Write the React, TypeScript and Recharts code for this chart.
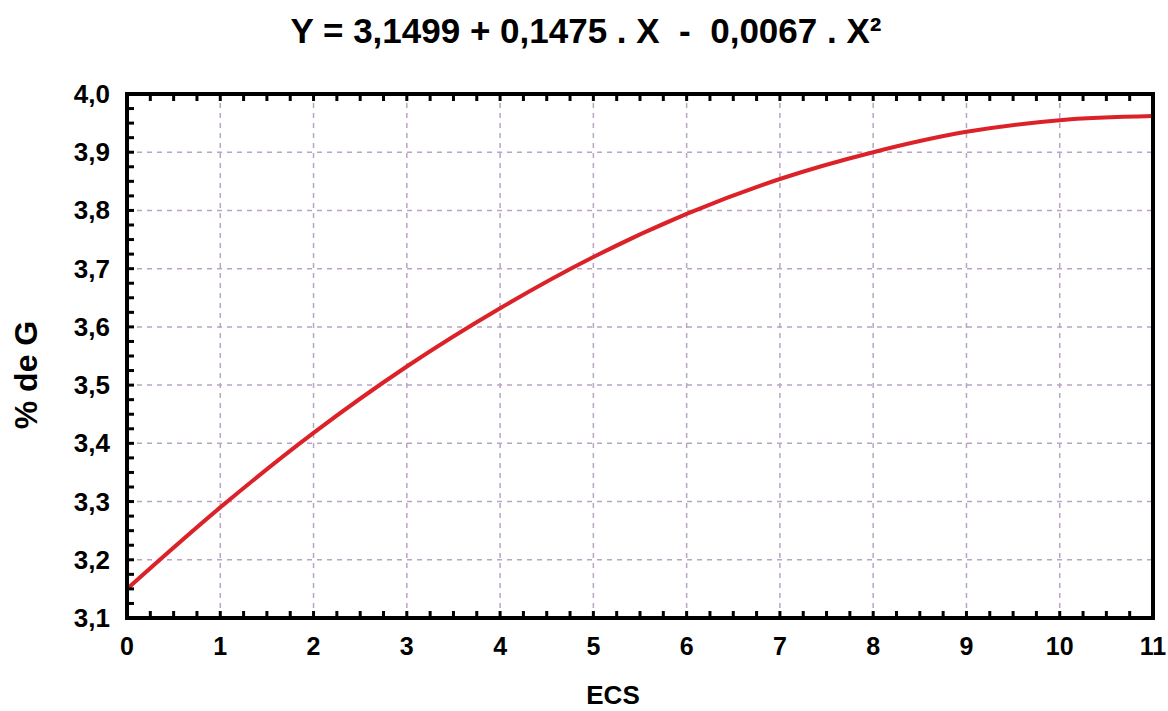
import React from 'react';
import { LineChart, Line, XAxis, YAxis, ReferenceLine } from 'recharts';

// values at each integer ECS
const ecs = [0, 1, 2, 3, 4, 5, 6, 7, 8, 9, 10, 11];
const pctG = [3.15, 3.29, 3.418, 3.532, 3.632, 3.72, 3.794, 3.854, 3.9, 3.935, 3.955, 3.962];

const xMajor = [0, 1, 2, 3, 4, 5, 6, 7, 8, 9, 10, 11];
const yMajor = [3.1, 3.2, 3.3, 3.4, 3.5, 3.6, 3.7, 3.8, 3.9, 4.0];

const title = 'Y = 3,1499 + 0,1475 . X  -  0,0067 . X²';

const data = ecs.map((x, i) => ({ x, y: pctG[i] }));

// minor ticks: 4 steps between each major tick
const subdivide = (major: number[], n: number) => {
  const out: number[] = [];
  major.forEach((v, i) => {
    if (i === major.length - 1) {
      out.push(v);
      return;
    }
    const step = (major[i + 1] - v) / n;
    for (let k = 0; k < n; k++) out.push(+(v + k * step).toFixed(4));
  });
  return out;
};
const xMinor = subdivide(xMajor, 4);
const yMinor = subdivide(yMajor, 4);

const isMajor = (v: number, unit: number) => Math.abs(v / unit - Math.round(v / unit)) < 1e-6;
const fmt = (v: number) => v.toFixed(1).replace('.', ',');

const FONT = '"Liberation Sans", Arial, sans-serif';
const TICK_LEN = 7;

const BottomTick = ({ x, y, payload }: any) => (
  <g>
    <line x1={x} y1={y} x2={x} y2={y - TICK_LEN} stroke="#000" strokeWidth={3} />
    {isMajor(payload.value, 1) && (
      <text x={x} y={y + 37} textAnchor="middle" fontFamily={FONT} fontWeight="bold" fontSize={25} fill="#000">
        {payload.value}
      </text>
    )}
  </g>
);

const TopTick = ({ x, y }: any) => (
  <line x1={x} y1={y} x2={x} y2={y + TICK_LEN} stroke="#000" strokeWidth={3} />
);

const LeftTick = ({ x, y, payload }: any) => (
  <g>
    <line x1={x} y1={y} x2={x + TICK_LEN} y2={y} stroke="#000" strokeWidth={3} />
    {isMajor(payload.value, 0.1) && (
      <text x={x - 17} y={y + 9} textAnchor="end" fontFamily={FONT} fontWeight="bold" fontSize={26} fill="#000">
        {fmt(payload.value)}
      </text>
    )}
  </g>
);

const RightTick = ({ x, y }: any) => (
  <line x1={x} y1={y} x2={x - TICK_LEN} y2={y} stroke="#000" strokeWidth={3} />
);

const grid = { stroke: '#b9a4c4', strokeWidth: 1.5, strokeDasharray: '5 5' };
const frame = { stroke: '#000', strokeWidth: 4, strokeLinecap: 'square' as const, ifOverflow: 'visible' as const };

const App = () => {
  return (
    <div style={{ position: 'absolute', left: 0, top: 0, width: 1168, height: 711, background: '#fff' }}>
      <div
        style={{
          position: 'absolute',
          top: 11,
          left: 0,
          width: 1168,
          textAlign: 'center',
          fontFamily: FONT,
          fontWeight: 'bold',
          fontSize: 35,
          whiteSpace: 'pre',
          paddingLeft: 2,
        }}
      >
        {title}
      </div>
      <LineChart width={1168} height={711} data={data} margin={{ top: 93, right: 14, left: 0, bottom: 0 }}>
        {xMajor.slice(1, -1).map((v) => (
          <ReferenceLine key={'vx' + v} x={v} xAxisId="x" yAxisId="y" {...grid} />
        ))}
        {yMajor.slice(1, -1).map((v) => (
          <ReferenceLine key={'hy' + v} y={v} xAxisId="x" yAxisId="y" {...grid} />
        ))}
        <XAxis
          xAxisId="x"
          dataKey="x"
          type="number"
          domain={[0, 11]}
          ticks={xMinor}
          interval={0}
          height={93}
          tickSize={0}
          tickMargin={0}
          tickLine={false}
          axisLine={false}
          tick={<BottomTick />}
          label={{
            value: 'ECS',
            position: 'insideBottom',
            offset: 7,
            dx: -27,
            style: { fontFamily: FONT, fontWeight: 'bold', fontSize: 26, fill: '#000' },
          }}
        />
        <XAxis
          xAxisId="xt"
          orientation="top"
          type="number"
          domain={[0, 11]}
          ticks={xMinor}
          interval={0}
          height={1}
          tickSize={0}
          tickMargin={0}
          tickLine={false}
          axisLine={false}
          tick={<TopTick />}
        />
        <YAxis
          yAxisId="y"
          type="number"
          domain={[3.1, 4.0]}
          ticks={yMinor}
          interval={0}
          width={127}
          tickSize={0}
          tickMargin={0}
          tickLine={false}
          axisLine={false}
          tick={<LeftTick />}
          label={{
            value: '% de G',
            angle: -90,
            position: 'insideLeft',
            offset: 26,
            dy: 19,
            style: { fontFamily: FONT, fontWeight: 'bold', fontSize: 32, fill: '#000', textAnchor: 'middle' },
          }}
        />
        <YAxis
          yAxisId="yr"
          orientation="right"
          type="number"
          domain={[3.1, 4.0]}
          ticks={yMinor}
          interval={0}
          width={1}
          tickSize={0}
          tickMargin={0}
          tickLine={false}
          axisLine={false}
          tick={<RightTick />}
        />
        <Line
          xAxisId="x"
          yAxisId="y"
          type="monotone"
          dataKey="y"
          stroke="#dc2229"
          strokeWidth={4}
          dot={false}
          isAnimationActive={false}
        />
        <ReferenceLine xAxisId="x" yAxisId="y" x={xMajor[0]} {...frame} />
        <ReferenceLine xAxisId="x" yAxisId="y" x={xMajor[xMajor.length - 1]} {...frame} />
        <ReferenceLine xAxisId="x" yAxisId="y" y={yMajor[0]} {...frame} />
        <ReferenceLine xAxisId="x" yAxisId="y" y={yMajor[yMajor.length - 1]} {...frame} />
      </LineChart>
    </div>
  );
};

export default App;
